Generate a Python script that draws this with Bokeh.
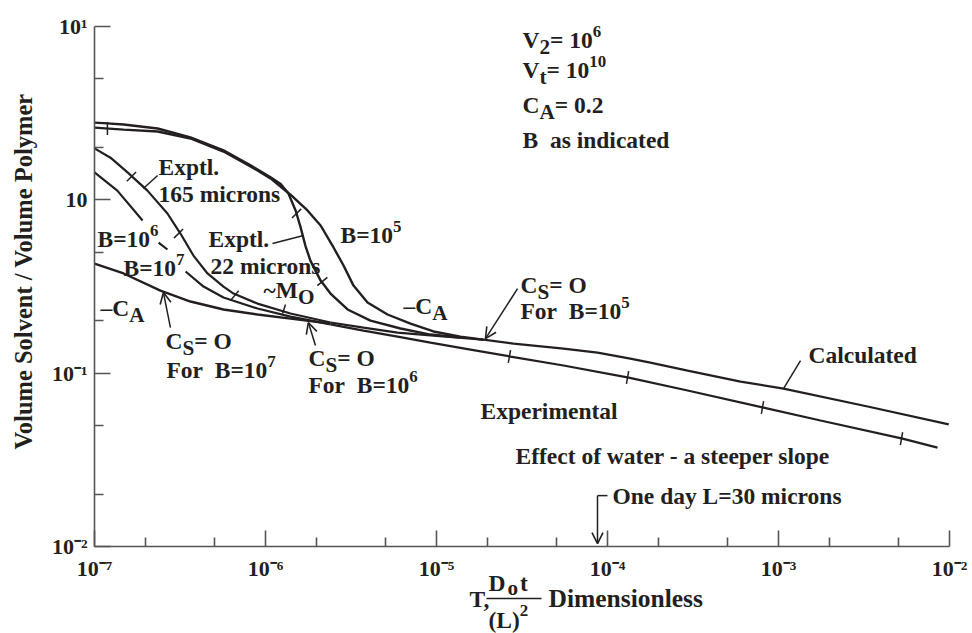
import math
from bokeh.plotting import figure
from bokeh.models import Range1d, FixedTicker, Label, Arrow, OpenHead, ColumnDataSource
from bokeh.embed import file_html
from bokeh.resources import INLINE

nan = float("nan")

# ---------------- data ----------------
x_ticks = [1e-7, 1e-6, 1e-5, 1e-4, 1e-3, 1e-2]
x_tick_labels = ["10\u207b\u2077", "10\u207b\u2076", "10\u207b\u2075", "10\u207b\u2074", "10\u207b\u00b3", "10\u207b\u00b2"]
y_ticks = [1e-2, 1e-1, 1e0, 1e1]
y_tick_labels = ["10\u207b\u00b2", "10\u207b\u00b9", "10", "10\u00b9"]
minor_mult = [2, 5]

# Exptl. 22 microns
x_e22 = [1.00e-7, 1.19e-7, 1.48e-7, 2.34e-7, 3.64e-7, 5.68e-7, 8.17e-7, 1.07e-6, 1.22e-6, 1.36e-6, 1.50e-6,
         1.60e-6, 1.71e-6, 1.83e-6, 2.10e-6, 2.40e-6, 3.02e-6, 4.11e-6, 6.16e-6, 9.22e-6, 1.38e-5]
y_e22 = [2.79, 2.76, 2.72, 2.58, 2.29, 1.93, 1.58, 1.35, 1.24, 1.09, 0.868,
         0.701, 0.545, 0.446, 0.342, 0.288, 0.233, 0.201, 0.181, 0.167, 0.1605]
# B = 10^5
x_b5 = [1.00e-7, 1.48e-7, 2.34e-7, 3.64e-7, 5.68e-7, 8.17e-7, 1.07e-6, 1.40e-6, 1.76e-6, 2.10e-6, 2.50e-6,
        2.86e-6, 3.27e-6, 3.95e-6, 5.17e-6, 7.05e-6, 9.60e-6, 1.38e-5, 1.88e-5]
y_b5 = [2.61, 2.54, 2.48, 2.26, 1.90, 1.56, 1.33, 1.07, 0.868, 0.711, 0.531,
        0.418, 0.320, 0.2555, 0.218, 0.193, 0.174, 0.1626, 0.156]
# Exptl. 165 microns
x_e165 = [1.00e-7, 1.24e-7, 1.56e-7, 2.04e-7, 2.67e-7, 3.18e-7, 3.79e-7, 4.58e-7, 5.68e-7, 6.50e-7, 8.98e-7, 1.40e-6, 2.40e-6]
y_e165 = [1.98, 1.75, 1.44, 1.13, 0.834, 0.639, 0.477, 0.376, 0.316, 0.288, 0.252, 0.221, 0.196]
# B = 10^7 curve (broken where the labels sit)
x_b7 = [1.00e-7, 1.36e-7, 1.91e-7, nan, 2.37e-7, 2.67e-7, nan, 3.41e-7, 4.34e-7, 5.68e-7, 8.98e-7, 1.40e-6, 2.40e-6]
y_b7 = [1.44, 1.13, 0.760, nan, 0.567, 0.517, nan, 0.386, 0.316, 0.273, 0.236, 0.212, 0.191]
# lowest curve (C_S = 0)
x_low = [1.00e-7, 1.48e-7, 2.43e-7, 3.64e-7, 5.68e-7, 8.98e-7, 1.40e-6, 2.40e-6]
y_low = [0.429, 0.376, 0.2996, 0.259, 0.233, 0.218, 0.2065, 0.193]
# Calculated
x_calc = [2.40e-6, 3.74e-6, 5.92e-6, 9.22e-6, 1.88e-5, 2.82e-5, 5.53e-5, 8.74e-5, 1.36e-4, 1.78e-4, 2.94e-4,
          6.0e-4, 1.07e-3, 3.32e-3, 9.9e-3]
y_calc = [0.196, 0.183, 0.1715, 0.165, 0.156, 0.148, 0.1387, 0.1315, 0.1214, 0.1151, 0.1035,
          0.0894, 0.0815, 0.0642, 0.0506]
# Experimental
x_exp = [2.40e-6, 3.74e-6, 5.92e-6, 9.22e-6, 1.58e-5, 2.71e-5, 5.53e-5, 1.33e-4, 2.94e-4, 8.17e-4, 1.76e-3, 5.31e-3, 8.51e-3]
y_exp = [0.191, 0.176, 0.1626, 0.150, 0.1368, 0.1247, 0.1107, 0.0943, 0.0794, 0.0633, 0.0533, 0.0419, 0.0372]

# small cross-marks on the curves
mark_x = [1.19e-7, 1.645e-7, 3.10e-7, 6.59e-7, 1.52e-6, 2.15e-6, 2.67e-5, 1.31e-4, 8.06e-4, 5.24e-3]
mark_y = [2.58, 1.36, 0.639, 0.280, 0.834, 0.338, 0.1247, 0.0943, 0.0633, 0.0419]
mark_angle_deg = [90, 45, 45, 50, 45, 40, 80, 80, 80, 80]

# leader lines from labels to curves
lead_x0 = [1.93e-7, 1.099e-6, 1.258e-6, 1.07e-3, 8.74e-5]
lead_y0 = [1.162, 0.560, 0.221, 0.0815, 0.01966]
lead_x1 = [2.34e-7, 1.67e-6, 1.309e-6, 1.345e-3, 1.0e-4]
lead_y1 = [1.381, 0.622, 0.249, 0.118, 0.01966]

# arrows (start -> head)
arr_x0 = [2.78e-7, 1.96e-6, 2.98e-5, 8.74e-5]
arr_y0 = [0.183, 0.1443, 0.3077, 0.01966]
arr_x1 = [2.53e-7, 1.78e-6, 1.934e-5, 8.74e-5]
arr_y1 = [0.2918, 0.196, 0.1583, 0.0104]

# ---------------- layout / style ----------------
W, H = 972, 633
AXL, AXR, AXT, AXB = 94, 949, 26, 546      # page pixels where the axis lines end
FONT = "Liberation Serif"
INK = "#231f20"
AXC = "#555555"
FS = 23.5
BASE_FIX = 8   # baseline correction for the labels

dec_x = (AXR - AXL) / math.log10(x_ticks[-1] / x_ticks[0])
dec_y = (AXB - AXT) / math.log10(y_ticks[-1] / y_ticks[0])
x_lo = x_ticks[0] * 10 ** (-AXL / dec_x)
x_hi = x_ticks[-1] * 10 ** ((W - AXR) / dec_x)
y_lo = y_ticks[0] * 10 ** (-(H - AXB) / dec_y)
y_hi = y_ticks[-1] * 10 ** (AXT / dec_y)

p = figure(width=W, height=H, x_axis_type="log", y_axis_type="log",
           x_range=Range1d(x_lo, x_hi), y_range=Range1d(y_lo, y_hi),
           output_backend="svg", toolbar_location=None, min_border=0,
           min_border_left=0, min_border_right=0, min_border_top=0, min_border_bottom=0)
p.title.visible = False
p.outline_line_color = None
p.grid.visible = False
p.background_fill_color = "white"
p.border_fill_color = "white"

x_minor = [m * t for t in x_ticks[:-1] for m in minor_mult]
y_minor = [m * t for t in y_ticks[:-1] for m in minor_mult]
p.xaxis.ticker = FixedTicker(ticks=x_ticks, minor_ticks=x_minor)
p.yaxis.ticker = FixedTicker(ticks=y_ticks, minor_ticks=y_minor)
p.xaxis.major_label_overrides = dict(zip(x_ticks, x_tick_labels))
p.yaxis.major_label_overrides = dict(zip(y_ticks, y_tick_labels))
p.xaxis.fixed_location = y_ticks[0]
p.xaxis.bounds = (x_ticks[0], x_ticks[-1])
p.yaxis.fixed_location = x_ticks[0]
p.yaxis.bounds = (y_ticks[0], y_ticks[-1])

for ax in (p.xaxis, p.yaxis):
    ax.axis_line_color = AXC
    ax.axis_line_width = 1.6
    ax.major_tick_line_color = AXC
    ax.minor_tick_line_color = AXC
    ax.major_tick_line_width = 1.6
    ax.minor_tick_line_width = 1.6
    ax.major_tick_in = 16
    ax.major_tick_out = 0
    ax.minor_tick_in = 9
    ax.minor_tick_out = 0
    ax.major_label_text_font = FONT
    ax.major_label_text_font_style = "bold"
    ax.major_label_text_font_size = "22px"
    ax.major_label_text_color = INK
p.xaxis.major_label_standoff = 9
p.yaxis.major_label_standoff = 7

# curves
for xs, ys, lw in [(x_e22, y_e22, 2.4), (x_b5, y_b5, 2.4), (x_e165, y_e165, 2.2), (x_b7, y_b7, 2.2),
                   (x_low, y_low, 2.4), (x_calc, y_calc, 2.2), (x_exp, y_exp, 2.2)]:
    p.line(xs, ys, line_color=INK, line_width=lw)

p.scatter(mark_x, mark_y, marker="dash", size=13, angle=[math.radians(a) for a in mark_angle_deg],
          line_color=INK, line_width=1.5)
p.segment(lead_x0, lead_y0, lead_x1, lead_y1, line_color=INK, line_width=1.5)
arr_src = ColumnDataSource(dict(x0=arr_x0, y0=arr_y0, x1=arr_x1, y1=arr_y1))
p.add_layout(Arrow(end=OpenHead(size=11, line_color=INK, line_width=1.6), x_start="x0", y_start="y0",
                   x_end="x1", y_end="y1", source=arr_src, line_color=INK, line_width=1.5))

# ---------------- text ----------------
NB = "\u00a0"
WID = {" ": .25, NB: .25, "=": .57, "-": .333, ".": .25, ",": .25, "~": .52, "\u2013": .5, "(": .333, ")": .333,
       "A": .722, "B": .667, "C": .722, "D": .722, "E": .667, "F": .611, "L": .667, "M": .944, "O": .778,
       "S": .556, "T": .667, "V": .722, "a": .5, "b": .556, "c": .444, "d": .556, "e": .444, "f": .333,
       "i": .278, "l": .278, "m": .833, "n": .556, "o": .5, "p": .556, "r": .444, "s": .389, "t": .333,
       "u": .556, "w": .722, "x": .5, "y": .5}


def tw(s, size):
    return sum(WID.get(c, .5) for c in s) * size


def rich(px, py, runs, size=FS, sub_dy=7, sup_dy=-8, gap=0.0):
    x = px
    for text, kind in runs:
        if kind == "sub":
            s, dy = size * 0.9, sub_dy
        elif kind == "sup":
            s, dy = size * 0.72, sup_dy
        else:
            s, dy = size, 0
        p.add_layout(Label(x=x, y=H - (py + dy - BASE_FIX), x_units="screen", y_units="screen",
                           text=text, text_font=FONT, text_font_style="bold", text_font_size=f"{s:.1f}px",
                           text_color=INK, text_align="left", text_baseline="alphabetic"))
        x += tw(text, s) + gap


texts = [
    (522, 47, [("V", "n"), ("2", "sub"), ("= 10", "n"), ("6", "sup")]),
    (522, 77, [("V", "n"), ("t", "sub"), ("= 10", "n"), ("10", "sup")]),
    (522, 112, [("C", "n"), ("A", "sub"), ("= 0.2", "n")]),
    (522, 147, [("B" + NB + " as indicated", "n")]),
    (158, 174, [("Exptl.", "n")]),
    (158, 201, [("165 microns", "n")]),
    (208, 246, [("Exptl.", "n")]),
    (210, 273, [("22 microns", "n")]),
    (340, 242, [("B=10", "n"), ("5", "sup")]),
    (97, 246, [("B=10", "n"), ("6", "sup")]),
    (123, 275, [("B=10", "n"), ("7", "sup")]),
    (263, 297, [("~M", "n"), ("O", "sub")]),
    (100, 315, [("\u2013C", "n"), ("A", "sub")]),
    (403, 313, [("\u2013C", "n"), ("A", "sub")]),
    (165, 348, [("C", "n"), ("S", "sub"), ("= O", "n")]),
    (166, 377, [("For" + NB + " B=10", "n"), ("7", "sup")]),
    (308, 365, [("C", "n"), ("S", "sub"), ("= O", "n")]),
    (308, 392, [("For" + NB + " B=10", "n"), ("6", "sup")]),
    (520, 292, [("C", "n"), ("S", "sub"), ("= O", "n")]),
    (520, 318, [("For" + NB + " B=10", "n"), ("5", "sup")]),
    (808, 362, [("Calculated", "n")]),
    (480, 418, [("Experimental", "n")]),
    (515, 463, [("Effect of water - a steeper slope", "n")]),
    (612, 503, [("One day L=30 microns", "n")]),
]
for px, py, runs in texts:
    rich(px, py, runs)

# x-axis title:  T, (D_o t)/(L)^2  Dimensionless
XT = 23.5
rich(469, 606, [("T,", "n")], size=XT)
rich(488, 590, [("D", "n"), ("o", "sub"), ("t", "n")], size=XT, sub_dy=5, gap=2)
rich(488, 627, [("(L)", "n"), ("2", "sup")], size=XT, sup_dy=-9)
rich(548, 606, [("Dimensionless", "n")], size=25.5)
p.add_layout(Arrow(start=None, end=None, x_start=486, y_start=H - 598, x_end=541, y_end=H - 598,
                   start_units="screen", end_units="screen", line_color=INK, line_width=1.6))

# y-axis title
p.add_layout(Label(x=23, y=H - 271, x_units="screen", y_units="screen", angle=math.pi / 2,
                   text="Volume Solvent / Volume Polymer", text_font=FONT, text_font_style="bold",
                   text_font_size="24.5px", text_color=INK, text_align="center", text_baseline="middle"))

open("out.html", "w").write(file_html(p, INLINE))
